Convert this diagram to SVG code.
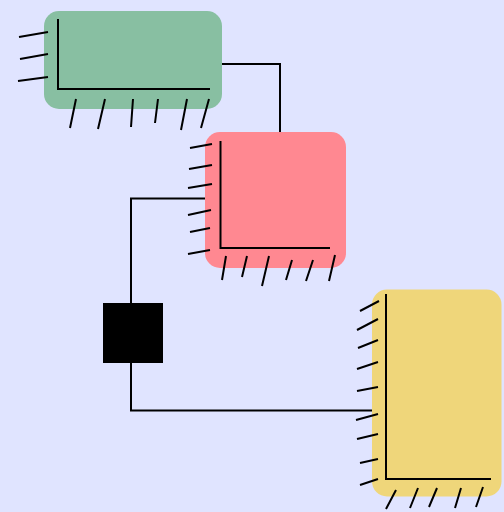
<svg xmlns="http://www.w3.org/2000/svg" width="504" height="512" viewBox="0 0 504 512">
<style>
.t{stroke:#000;stroke-width:2;fill:none}
.ax{stroke:#000;stroke-width:2;fill:none}
.c{stroke:#000;stroke-width:2;fill:none}
</style>
<rect width="504" height="512" fill="#e0e4ff"/>
<g id="connectors">
<polyline class="c" points="222,64 280,64 280,132"/>
<polyline class="c" points="205,198.5 131,198.5 131,303"/>
<polyline class="c" points="131,363 131,410.5 372,410.5"/>
</g>
<g id="node-green">
<rect x="44" y="11" width="178" height="98" rx="15" fill="#88bfa2"/>
<polyline class="ax" points="58,19 58,89 210,89"/>
<path class="t" d="M19,37L48,32M20,59L48,54M18,81L48,77M76,99L70,128M105,99L98,129M133,99L131,127M158,99L155,123M187,99L181,130M209,99L201,128"/>
</g>
<g id="node-pink">
<rect x="205" y="132" width="141" height="136" rx="15" fill="#ff8891"/>
<polyline class="ax" points="220.5,141 220.5,248 330,248"/>
<path class="t" d="M190,148L212,144M189,169L212,165M188,188L212,184M188,215L211,210M190,232L210,228M188,254L210,250M226,256L222,280M247,256L242,277M269,256L262,286M292,260L286,280M313,260L306,281M335,255L329,281"/>
</g>
<g id="node-black">
<rect x="103" y="303" width="60" height="60" fill="#000"/>
</g>
<g id="node-yellow">
<rect x="372" y="289.5" width="129.5" height="207" rx="15" fill="#efd67a"/>
<polyline class="ax" points="386,294 386,479 491,479"/>
<path class="t" d="M360,311L379,301M357,330L378,319M358,348L378,340M357,369L378,362M357,391L378,387M356,420L378,414M357,439L378,434M360,463L378,459M360,485L378,479M396,490L386,509M418,488L410,508M437,488L429,507M461,488L455,508M483,487L476,507"/>
</g>
</svg>
